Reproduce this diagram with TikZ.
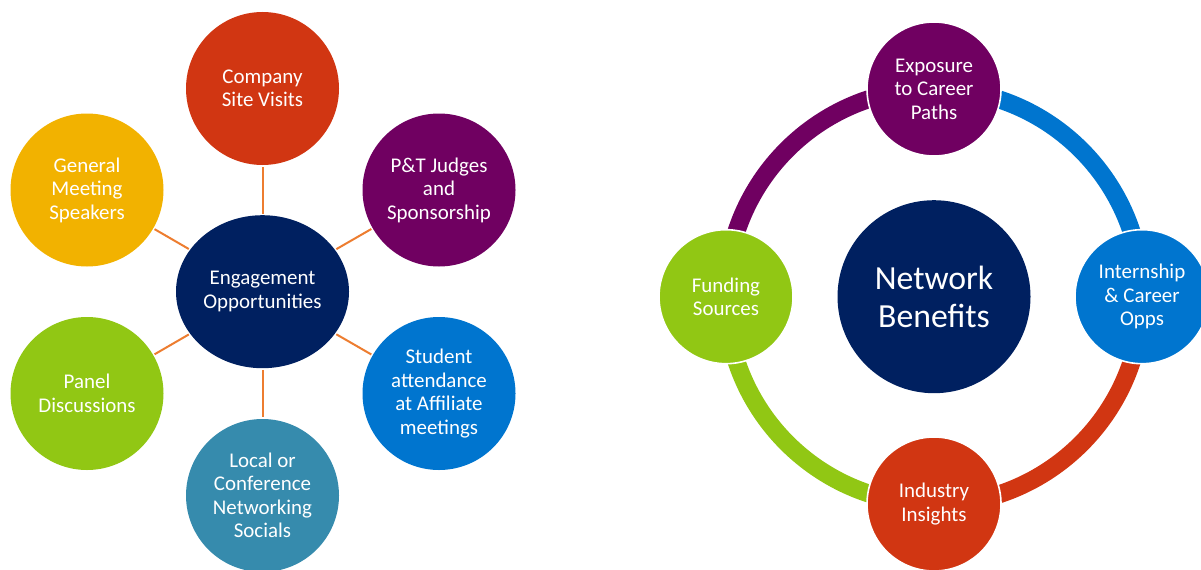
\documentclass[tikz,border=0pt]{standalone}
\usepackage{fontspec}
\setmainfont{Carlito}
\usetikzlibrary{shapes.geometric,backgrounds}
\definecolor{qqqqww}{rgb}{0,0.125,0.376}
\definecolor{zzwwqq}{rgb}{0.82,0.21,0.07}
\definecolor{ffccqq}{rgb}{0.95,0.70,0}
\definecolor{wwqqww}{rgb}{0.44,0,0.38}
\definecolor{qqwwzz}{rgb}{0,0.46,0.81}
\definecolor{cczzqq}{rgb}{0.57,0.78,0.08}
\definecolor{wwcczz}{rgb}{0.21,0.545,0.68}
\definecolor{ffwwqq}{rgb}{0.93,0.49,0.19}
\begin{document}
\begin{tikzpicture}[line cap=round,line join=round,x=0.75pt,y=0.75pt,
  bubble/.style={circle,inner sep=0pt,minimum size=114.75pt,text=white,align=center,font=\fontsize{15.7}{17.6}\selectfont},
  ringnode/.style={circle,draw=white,line width=1.2pt,inner sep=0pt,minimum size=100.5pt,text=white,align=center,font=\fontsize{15.7}{17.6}\selectfont},
  link/.style={line width=1.5pt,color=ffwwqq,line cap=butt,shorten <=1pt,shorten >=1pt},
  band/.style={line width=13.5pt,line cap=butt}]
\useasboundingbox (0,0) rectangle (1201,569);
% engagement
\node[ellipse,fill=qqqqww,minimum width=129.75pt,minimum height=114.75pt,inner sep=0pt,text=white,align=center,font=\fontsize{15.7}{17.6}\selectfont] (eng) at (262.5,277.3) {Engagement\\Opportunities};
\node[bubble,fill=zzwwqq] (csv) at (262.5,480.5) {Company\\Site Visits};
\node[bubble,fill=ffccqq] (gms) at (87,379) {General\\Meeting\\Speakers};
\node[bubble,fill=wwqqww] (ptj) at (439,379) {P\&T Judges\\and\\Sponsorship};
\node[bubble,fill=cczzqq] (pnl) at (87,175.5) {Panel\\Discussions};
\node[bubble,fill=qqwwzz] (stu) at (439,175.5) {Student\\attendance\\at Affiliate\\meetings};
\node[bubble,fill=wwcczz] (soc) at (262.5,73.5) {Local or\\Conference\\Networking\\Socials};
\foreach \n in {csv,gms,ptj,pnl,stu,soc}
  \draw[link] (eng) -- (\n);
% network
\node[circle,fill=qqqqww,minimum size=144.75pt,inner sep=0pt,text=white,align=center,font=\fontsize{25.3}{28.6}\selectfont] (net) at (934,272.3) {Network\\Benefits};
\node[ringnode,fill=wwqqww] (exp) at (934,480) {Exposure\\to Career\\Paths};
\node[ringnode,fill=qqwwzz] (int) at (1142,272.3) {Internship\\\& Career\\Opps};
\node[ringnode,fill=zzwwqq] (ind) at (934,65) {Industry\\Insights};
\node[ringnode,fill=cczzqq] (fun) at (726,272.3) {Funding\\Sources};
\begin{scope}[on background layer]
\draw[band,wwqqww] (fun.center) arc[start angle=180,end angle=90,radius=208];
\draw[band,qqwwzz] (exp.center) arc[start angle=90,end angle=0,radius=208];
\draw[band,zzwwqq] (int.center) arc[start angle=0,end angle=-90,radius=208];
\draw[band,cczzqq] (ind.center) arc[start angle=270,end angle=180,radius=208];
\end{scope}
\end{tikzpicture}
\end{document}
